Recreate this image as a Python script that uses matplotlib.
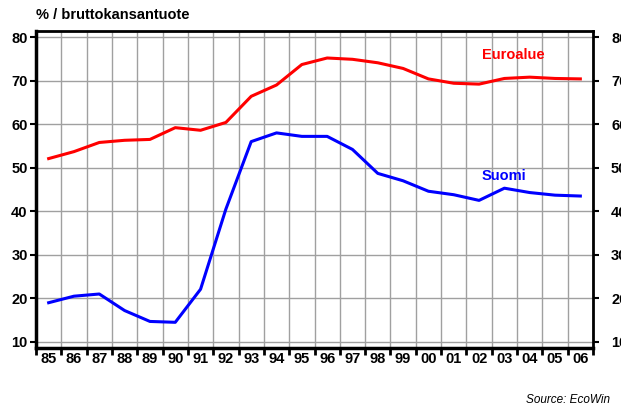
import matplotlib
matplotlib.use("Agg")
import matplotlib.pyplot as plt
import numpy as np

# data
years = ['85', '86', '87', '88', '89', '90', '91', '92', '93', '94', '95',
         '96', '97', '98', '99', '00', '01', '02', '03', '04', '05', '06']
euroalue = [52.1, 53.7, 55.8, 56.3, 56.5, 59.2, 58.6, 60.4, 66.4, 69.0, 73.7,
            75.2, 74.9, 74.1, 72.8, 70.4, 69.4, 69.2, 70.5, 70.8, 70.5, 70.4]
suomi = [19.0, 20.5, 21.0, 17.2, 14.7, 14.5, 22.1, 40.5, 56.0, 58.0, 57.2,
         57.2, 54.2, 48.7, 47.0, 44.6, 43.8, 42.5, 45.3, 44.3, 43.7, 43.5]
yticks = [10, 20, 30, 40, 50, 60, 70, 80]

plt.rcParams['font.family'] = ['Liberation Sans', 'DejaVu Sans']

W, H = 621, 408
fig = plt.figure(figsize=(W / 100, H / 100), dpi=100)
ax = fig.add_axes([36 / W, 1 - 348 / H, (593 - 36) / W, (348 - 31) / H])

x = np.arange(len(years))
ax.plot(x, euroalue, color='#ff0000', lw=2.2)
ax.plot(x, suomi, color='#0000ff', lw=2.2)

ax.set_xlim(-0.5, len(years) - 0.5)
ax.set_ylim(8.6, 81.4)

# grid on category boundaries, year labels between them
bounds = np.arange(len(years) + 1) - 0.5
ax.set_xticks(bounds)
ax.set_xticklabels([])
ax.set_xticks(x, minor=True)
ax.set_xticklabels(years, minor=True, fontsize=10.5, fontweight='bold')
ax.tick_params(axis='x', which='minor', length=0, pad=3)
ax.tick_params(axis='x', which='major', direction='out', length=5, width=2)
ax.set_yticks(yticks)
ax.set_yticklabels(yticks, fontsize=10.5, fontweight='bold')
ax.tick_params(axis='y', direction='out', length=4, width=1.5, pad=2)
ax.grid(True, which='major', color='#a0a0a0', lw=1)
ax.set_axisbelow(True)

for side in ['left', 'bottom']:
    ax.spines[side].set_linewidth(2.5)
for side in ['right', 'top']:
    ax.spines[side].set_linewidth(2)

# right-hand axis copy, its labels run off the figure edge as in the original
ax2 = ax.twinx()
ax2.set_ylim(ax.get_ylim())
ax2.set_yticks(yticks)
ax2.set_yticklabels(yticks, fontsize=10.5, fontweight='bold')
ax2.tick_params(axis='y', direction='out', length=4, width=1.5, pad=9)
for s in ax2.spines.values():
    s.set_visible(False)

fig.text(513 / W, 1 - 55 / H, 'Euroalue', color='#ff0000', fontsize=10.5,
         fontweight='bold', ha='center', va='center')
fig.text(504 / W, 1 - 176 / H, 'Suomi', color='#0000ff', fontsize=10.5,
         fontweight='bold', ha='center', va='center')

fig.text(36 / W, 1 - 15 / H, '% / bruttokansantuote', fontsize=10.5,
         fontweight='bold', ha='left', va='center')
fig.text(526 / W, 1 - 400 / H, 'Source: EcoWin', fontsize=8.5,
         style='italic', ha='left', va='center')

fig.savefig('out.png', dpi=100)
